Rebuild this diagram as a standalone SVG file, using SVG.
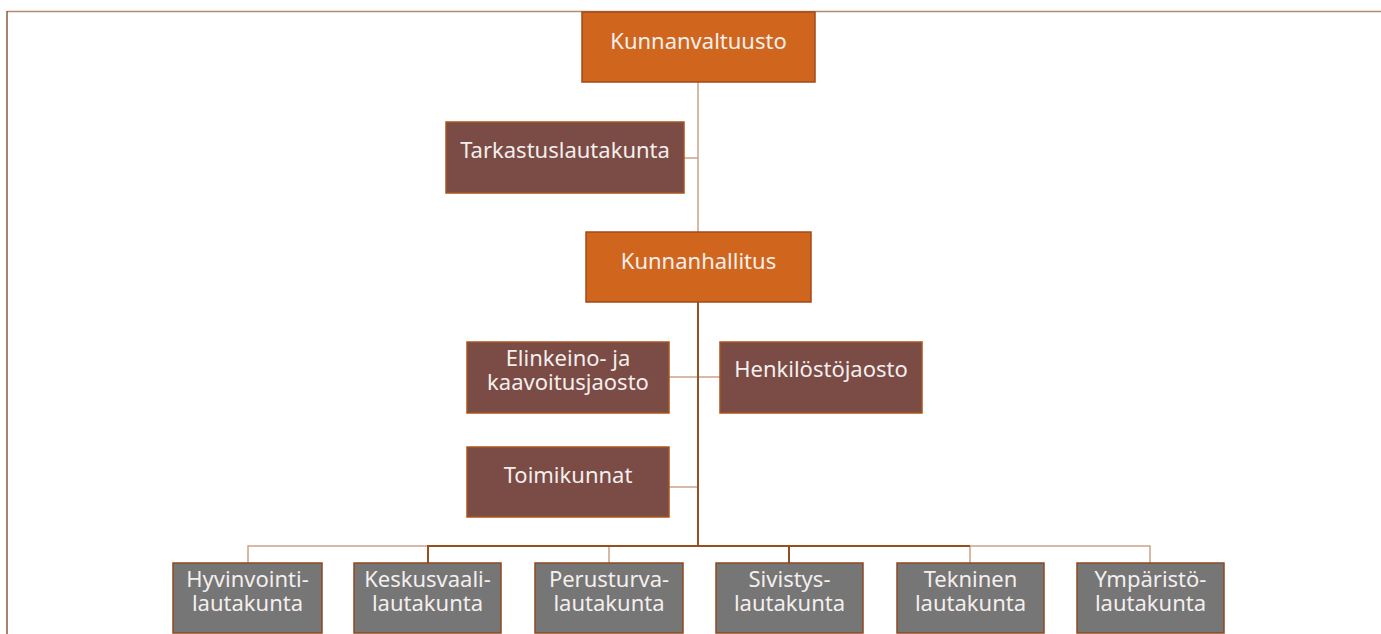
<svg xmlns="http://www.w3.org/2000/svg" width="1381" height="634" viewBox="0 0 1381 634">
<style>
.t{font-family:"Noto Sans","Open Sans",sans-serif;font-size:22px;fill:#f4efed;text-anchor:middle}
.or{fill:#d0661e;stroke:#a24a17;stroke-width:1.5}
.br{fill:#7b4b45;stroke:#a8541f;stroke-width:1.5}
.gr{fill:#767676;stroke:#8e4a1f;stroke-width:1.5}
.lt{stroke:#c9a38a;stroke-width:1.5;fill:none}
.dk{stroke:#94501f;stroke-width:2;fill:none}
</style>
<rect width="1381" height="634" fill="#ffffff"/>
<g id="frame">
<line x1="7" y1="11.5" x2="1381" y2="11.5" stroke="#b38b70" stroke-width="1.5"/>
<line x1="7" y1="11" x2="7" y2="634" stroke="#8b5a3c" stroke-width="1.5"/>
</g>
<g id="connectors">
<line class="lt" x1="698" y1="82" x2="698" y2="233"/>
<line class="lt" x1="684" y1="158" x2="698" y2="158"/>
<line class="lt" x1="669" y1="377" x2="720" y2="377"/>
<line class="lt" x1="669" y1="487" x2="698" y2="487"/>
<polyline class="lt" points="248,563 248,546 1150,546 1150,563"/>
<line class="lt" x1="609" y1="546" x2="609" y2="563"/>
<line class="lt" x1="970" y1="546" x2="970" y2="563"/>
<line class="dk" x1="698" y1="302" x2="698" y2="546"/>
<polyline class="dk" points="428,563 428,546 970,546"/>
<line class="dk" x1="789" y1="546" x2="789" y2="563"/>
</g>
<g id="kunnanvaltuusto"><rect class="or" x="582" y="12" width="233" height="70"/><text class="t" x="698.5" y="49">Kunnanvaltuusto</text></g>
<g id="tarkastuslautakunta"><rect class="br" x="446" y="122" width="238" height="71"/><text class="t" x="565" y="158">Tarkastuslautakunta</text></g>
<g id="kunnanhallitus"><rect class="or" x="586" y="232" width="225" height="70"/><text class="t" x="698.5" y="269">Kunnanhallitus</text></g>
<g id="elinkeino"><rect class="br" x="467" y="342" width="202" height="71"/><text class="t" y="366"><tspan x="568">Elinkeino- ja</tspan><tspan x="568" dy="24">kaavoitusjaosto</tspan></text></g>
<g id="henkilostojaosto"><rect class="br" x="720" y="342" width="202" height="71"/><text class="t" x="821" y="377">Henkilöstöjaosto</text></g>
<g id="toimikunnat"><rect class="br" x="467" y="447" width="202" height="70"/><text class="t" x="568" y="483">Toimikunnat</text></g>
<g id="hyvinvointi"><rect class="gr" x="173" y="563" width="149" height="70"/><text class="t" y="587"><tspan x="247.5">Hyvinvointi-</tspan><tspan x="247.5" dy="24">lautakunta</tspan></text></g>
<g id="keskusvaali"><rect class="gr" x="354" y="563" width="147" height="70"/><text class="t" y="587"><tspan x="427.5">Keskusvaali-</tspan><tspan x="427.5" dy="24">lautakunta</tspan></text></g>
<g id="perusturva"><rect class="gr" x="535" y="563" width="148" height="70"/><text class="t" y="587"><tspan x="609">Perusturva-</tspan><tspan x="609" dy="24">lautakunta</tspan></text></g>
<g id="sivistys"><rect class="gr" x="716" y="563" width="147" height="70"/><text class="t" y="587"><tspan x="789.5">Sivistys-</tspan><tspan x="789.5" dy="24">lautakunta</tspan></text></g>
<g id="tekninen"><rect class="gr" x="897" y="563" width="147" height="70"/><text class="t" y="587"><tspan x="970.5">Tekninen</tspan><tspan x="970.5" dy="24">lautakunta</tspan></text></g>
<g id="ymparisto"><rect class="gr" x="1077" y="563" width="147" height="70"/><text class="t" y="587"><tspan x="1150.5">Ympäristö-</tspan><tspan x="1150.5" dy="24">lautakunta</tspan></text></g>
</svg>
